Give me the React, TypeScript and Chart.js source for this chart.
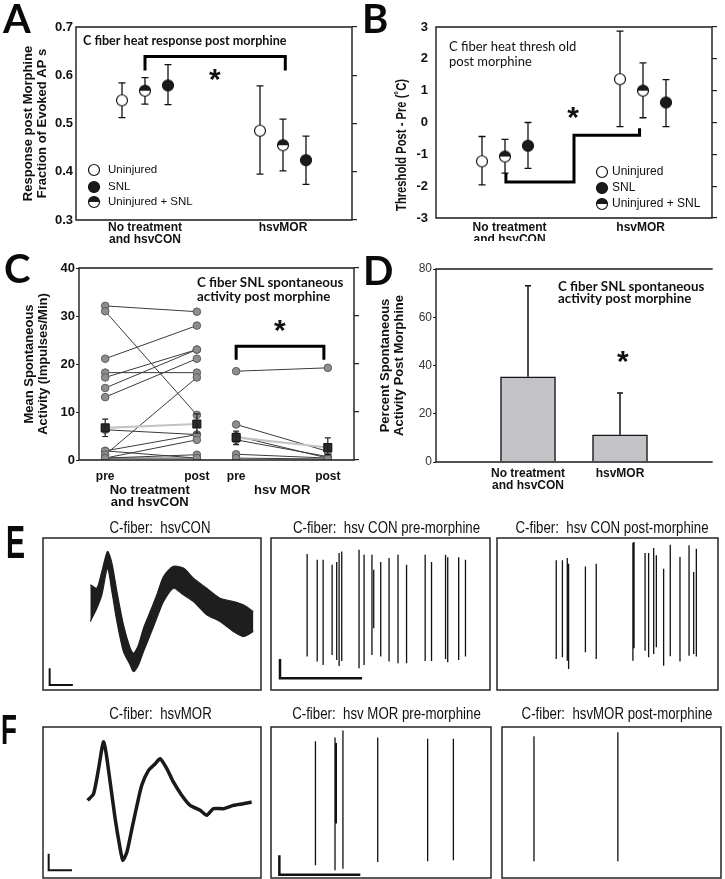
import React, { useEffect, useRef } from 'react';
import { Chart, registerables } from 'chart.js';
Chart.register(...registerables);

// ================= DATA =================
// Panel A – C fiber heat response post morphine
const A_groupTickValues = [3, 9];
const A_groupLabels: (string | string[])[] = [['No treatment', 'and hsvCON'], 'hsvMOR'];
const A_xUninjured = [2, 8];
const A_uninjured = [0.548, 0.485];
const A_uninjuredLow = [0.512, 0.395];
const A_uninjuredHigh = [0.584, 0.578];
const A_xCombined = [3, 9];
const A_combined = [0.568, 0.455];
const A_combinedLow = [0.54, 0.402];
const A_combinedHigh = [0.595, 0.509];
const A_xSNL = [4, 10];
const A_snl = [0.579, 0.424];
const A_snlLow = [0.539, 0.374];
const A_snlHigh = [0.622, 0.474];
const A_bracketX = [3, 3, 9.1, 9.1];
const A_bracketY = [0.61, 0.639, 0.639, 0.61];
const A_star = [6.04, 0.6];

// Panel B – C fiber heat threshold post morphine
const B_groupTickValues = [3.2, 8.9];
const B_groupLabels: (string | string[])[] = [['No treatment', 'and hsvCON'], 'hsvMOR'];
const B_xUninjured = [2, 8];
const B_uninjured = [-1.22, 1.36];
const B_uninjuredLow = [-1.96, -0.13];
const B_uninjuredHigh = [-0.44, 2.87];
const B_xCombined = [3, 9];
const B_combined = [-1.07, 1.0];
const B_combinedLow = [-1.59, 0.15];
const B_combinedHigh = [-0.53, 1.87];
const B_xSNL = [4, 10];
const B_snl = [-0.73, 0.63];
const B_snlLow = [-1.44, -0.13];
const B_snlHigh = [0.0, 1.35];
const B_stepX = [3.04, 3.04, 6, 6, 8.85, 8.85];
const B_stepY = [-1.59, -1.87, -1.87, -0.4, -0.4, -0.18];
const B_star = [5.96, 0.3];

const legendLabels = ['Uninjured', 'SNL', 'Uninjured + SNL'];

// Panel C – spontaneous activity pre / post
const C_phaseX = [1, 4.5, 6, 9.5];
const C_phaseLabels = ['pre', 'post', 'pre', 'post'];
const C_groupX = [2.7, 7.76];
const C_groupLabels: (string | string[])[] = [['No treatment', 'and hsvCON'], 'hsv MOR'];
const C_ctrlPre = [32.1, 31.0, 21.1, 18.2, 17.2, 15.0, 13.1, 6.3, 1.9, 1.9, 1.1, 0.4, 0.4, 0.4];
const C_ctrlPost = [30.9, 9.4, 28.0, 18.2, 23.0, 23.0, 21.1, 5.3, 5.3, 0.4, 17.2, 4.2, 1.1, 0.4];
const C_morPre = [18.5, 7.4, 5.0, 4.2, 1.2, 0.4];
const C_morPost = [19.2, 1.8, 0.4, 0.7, 0.4, 0.2];
const C_ctrlMean = [6.7, 7.5];
const C_ctrlMeanLow = [4.9, 5.6];
const C_ctrlMeanHigh = [8.5, 9.6];
const C_morMean = [4.7, 2.6];
const C_morMeanLow = [3.2, 1.1];
const C_morMeanHigh = [6.0, 4.6];
const C_bracketX = [6, 6, 9.35, 9.35];
const C_bracketY = [20.9, 23.7, 23.7, 20.9];
const C_star = [7.67, 27.9];

// Panel D – percent spontaneous activity post morphine
const D_categories: (string | string[])[] = ['', ['No treatment', 'and hsvCON'], 'hsvMOR', ''];
const D_percent = [null, 35.3, 11.3, null];
const D_errorTop = [null, 73.1, 28.6, null];
const D_star = [2.03, 43.5];

// Panel E/F – recordings (normalised 0-100 frame units)
const E1_time = [21.7, 24.7, 27.0, 29.6, 31.6, 33.9, 36.9, 40.0, 41.5, 43.8, 46.1, 49.2, 52.2, 55.3, 59.8, 64.4, 69.0, 75.1, 81.2, 87.3, 91.9, 96.5];
const E1_upper = [69.2, 67.0, 78.0, 91.2, 83.5, 64.8, 42.9, 27.5, 24.2, 29.7, 40.7, 51.6, 62.6, 74.7, 81.3, 80.2, 73.6, 67.0, 60.4, 58.2, 56.0, 51.6];
const E1_lower = [45.1, 53.8, 62.6, 80.2, 64.8, 45.1, 25.3, 16.5, 12.1, 16.5, 25.3, 36.3, 47.3, 58.2, 67.0, 62.6, 58.2, 49.5, 45.1, 38.5, 35.2, 38.5];
const E1_barX = [3.05, 3.05, 13.7];
const E1_barY = [14.3, 3.3, 3.3];

const E2_spikeX = [16.5, 21.1, 23.8, 27.9, 30.0, 31.1, 32.3, 40.2, 42.5, 46.1, 46.9, 50.1, 53.9, 58.0, 61.9, 70.4, 73.3, 79.7, 80.7, 85.7, 88.8];
const E2_spikeTop = [89.5, 85.7, 85.7, 82.4, 84.2, 90.1, 91.2, 92.3, 89.0, 89.0, 79.1, 84.2, 86.8, 89.0, 82.4, 89.0, 84.2, 89.0, 87.3, 87.3, 85.7];
const E2_spikeBottom = [22.0, 18.7, 16.5, 23.1, 19.8, 15.8, 19.1, 14.3, 16.5, 23.1, 40.7, 22.0, 18.7, 17.6, 17.6, 19.1, 19.1, 20.4, 18.2, 19.8, 22.0];
const E2_barX = [4.1, 4.1, 41.6];
const E2_barY = [20.4, 7.7, 7.7];

const E3_spikeX = [26.8, 29.6, 31.8, 32.4, 40.0, 44.9, 61.5, 62.0, 67.0, 68.6, 70.9, 72.1, 75.4, 78.4, 82.8, 86.9, 89.0, 90.2];
const E3_spikeTop = [85.3, 85.3, 86.8, 83.1, 81.3, 83.1, 96.9, 97.4, 90.1, 90.1, 93.4, 88.6, 79.8, 95.6, 87.5, 95.2, 77.6, 93.0];
const E3_spikeBottom = [20.4, 21.5, 19.3, 13.8, 24.8, 20.4, 19.3, 27.5, 25.9, 21.5, 23.7, 28.1, 16.0, 22.2, 18.7, 22.6, 23.7, 22.0];

const F1_time = [20.5, 23.2, 25.5, 27.0, 27.8, 29.0, 30.8, 33.1, 35.4, 36.6, 38.5, 40.8, 43.1, 45.3, 48.4, 51.5, 53.7, 56.8, 59.8, 63.7, 67.5, 72.1, 75.1, 78.2, 82.7, 87.3, 91.9, 95.7];
const F1_trace = [51.4, 55.8, 72.4, 85.7, 90.1, 82.3, 63.6, 39.3, 19.4, 11.7, 17.2, 32.7, 48.1, 61.4, 71.3, 75.7, 79.0, 72.4, 63.6, 54.7, 48.1, 44.8, 41.5, 45.9, 45.9, 48.1, 49.2, 50.3];
const F1_barX = [2.6, 2.6, 13.3];
const F1_barY = [16.1, 5.1, 5.1];

const F2_spikeX = [20.2, 29.1, 29.7, 32.7, 48.5, 71.2, 82.9];
const F2_spikeTop = [90.5, 93.1, 89.4, 97.6, 93.1, 92.2, 92.2];
const F2_spikeBottom = [8.4, 5.1, 36.1, 6.2, 10.6, 11.1, 11.8];
const F2_barX = [3.8, 3.8, 40.6];
const F2_barY = [15.1, 2.2, 2.2];

const F3_spikeX = [14.6, 52.9];
const F3_spikeTop = [93.8, 96.5];
const F3_spikeBottom = [11.1, 11.1];

// ================= STYLE =================
const FONT_AX = "'Liberation Sans', Arial, Helvetica, sans-serif";
const FONT_CAL = "Lato, 'Open Sans', sans-serif";
const INK = '#111111';

type Rect = { x: number; y: number; w: number; h: number };
type Area = { l: number; t: number; r: number; b: number };

function layoutPadding(c: Rect, a: Area, left = 0, right = 0, bottom = 0) {
  return { left: a.l - c.x - left, top: a.t - c.y, right: c.x + c.w - a.r - right, bottom: c.y + c.h - a.b - bottom };
}

function makeMarker(kind: 'open' | 'filled' | 'half', r = 5.5) {
  const s = Math.ceil(r * 2 + 3);
  const c = document.createElement('canvas');
  c.width = s;
  c.height = s;
  const ctx = c.getContext('2d')!;
  const m = s / 2;
  ctx.beginPath();
  ctx.arc(m, m, r, 0, Math.PI * 2);
  ctx.fillStyle = kind === 'filled' ? '#1a1a1a' : '#ffffff';
  ctx.fill();
  if (kind === 'half') {
    ctx.beginPath();
    ctx.arc(m, m, r, Math.PI, Math.PI * 2);
    ctx.closePath();
    ctx.fillStyle = '#1a1a1a';
    ctx.fill();
  }
  ctx.beginPath();
  ctx.arc(m, m, r, 0, Math.PI * 2);
  ctx.lineWidth = 1.2;
  ctx.strokeStyle = '#111';
  ctx.stroke();
  return c;
}

type TextSpec = { text: string; x: number; y: number; mode?: 'data' | 'area'; font: string; color?: string; align?: CanvasTextAlign; baseline?: CanvasTextBaseline; dy?: number; rotate?: number; sx?: number };
type ErrSpec = { x: number[]; lo: number[]; hi: number[]; cap: number; width: number; color: string; layer?: 'under' | 'over'; capLow?: boolean };
type LegendSpec = { img: HTMLCanvasElement; x: number; y: number; text: string; tx: number; font: string };
type Deco = { frame?: string; frameWidth?: number; frameColor?: string; texts?: TextSpec[]; errs?: ErrSpec[]; legend?: LegendSpec[] };

function makeDeco(d: Deco) {
  const drawErr = (chart: any, layer: string) => {
    const xs = chart.scales.x;
    const ys = chart.scales.y;
    const ctx = chart.ctx;
    for (const e of d.errs || []) {
      if ((e.layer || 'under') !== layer) continue;
      ctx.save();
      ctx.strokeStyle = e.color;
      ctx.lineWidth = e.width;
      e.x.forEach((xv, i) => {
        const px = xs.getPixelForValue(xv);
        const p1 = ys.getPixelForValue(e.lo[i]);
        const p2 = ys.getPixelForValue(e.hi[i]);
        ctx.beginPath();
        ctx.moveTo(px, p1);
        ctx.lineTo(px, p2);
        if (e.capLow !== false) {
          ctx.moveTo(px - e.cap, p1);
          ctx.lineTo(px + e.cap, p1);
        }
        ctx.moveTo(px - e.cap, p2);
        ctx.lineTo(px + e.cap, p2);
        ctx.stroke();
      });
      ctx.restore();
    }
  };
  return {
    id: 'deco',
    beforeDatasetsDraw(chart: any) {
      drawErr(chart, 'under');
    },
    afterDatasetsDraw(chart: any) {
      drawErr(chart, 'over');
    },
    afterDraw(chart: any) {
      const ctx = chart.ctx;
      const { left, top, right, bottom } = chart.chartArea;
      if (d.frame) {
        ctx.save();
        ctx.strokeStyle = d.frameColor || '#1a1a1a';
        ctx.lineWidth = d.frameWidth || 1.4;
        ctx.lineCap = 'square';
        ctx.beginPath();
        if (d.frame.includes('t')) { ctx.moveTo(left, top); ctx.lineTo(right, top); }
        if (d.frame.includes('b')) { ctx.moveTo(left, bottom); ctx.lineTo(right, bottom); }
        if (d.frame.includes('l')) { ctx.moveTo(left, top); ctx.lineTo(left, bottom); }
        if (d.frame.includes('r')) { ctx.moveTo(right, top); ctx.lineTo(right, bottom); }
        ctx.stroke();
        ctx.restore();
      }
      for (const t of d.texts || []) {
        let px: number, py: number;
        if (t.mode === 'area') {
          px = left + t.x;
          py = top + t.y;
        } else {
          px = chart.scales.x.getPixelForValue(t.x);
          py = chart.scales.y.getPixelForValue(t.y);
        }
        ctx.save();
        ctx.translate(px, py);
        if (t.rotate) ctx.rotate(t.rotate);
        if (t.sx) ctx.scale(t.sx, 1);
        ctx.font = t.font;
        ctx.fillStyle = t.color || INK;
        ctx.textAlign = t.align || 'left';
        ctx.textBaseline = t.baseline || 'middle';
        ctx.fillText(t.text, 0, t.dy || 0);
        ctx.restore();
      }
      for (const l of d.legend || []) {
        ctx.save();
        ctx.drawImage(l.img, left + l.x - l.img.width / 2, top + l.y - l.img.height / 2);
        ctx.font = l.font;
        ctx.fillStyle = INK;
        ctx.textAlign = 'left';
        ctx.textBaseline = 'middle';
        ctx.fillText(l.text, left + l.tx, top + l.y);
        ctx.restore();
      }
    },
  };
}

function baseOptions(padding: any) {
  return {
    responsive: false,
    maintainAspectRatio: false,
    animation: false,
    events: [],
    layout: { padding, autoPadding: false },
    plugins: { legend: { display: false }, tooltip: { enabled: false }, title: { display: false } },
  };
}

const pts = (xs: number[], ys: number[]) => xs.map((x, i) => ({ x, y: ys[i] }));
const NO_GRID = { display: false, drawTicks: false };
const STAR_FONT = `bold 30px ${FONT_AX}`;
const STAR_DY = 14;

function markerSet(xs: number[], ys: number[], img: HTMLCanvasElement) {
  return { type: 'line', data: pts(xs, ys), showLine: false, pointStyle: img, pointRadius: 6, xAxisID: 'x', yAxisID: 'y', order: 0 };
}

function lineSet(xs: number[], ys: number[], width: number, color = '#000') {
  return { type: 'line', data: pts(xs, ys), borderColor: color, borderWidth: width, pointRadius: 0, fill: false, tension: 0, borderJoinStyle: 'miter', xAxisID: 'x', yAxisID: 'y', order: 1 };
}

function spikeSet(xs: number[], tops: number[], bottoms: number[], width = 1.3) {
  const data: any[] = [];
  xs.forEach((x, i) => {
    data.push({ x, y: tops[i] }, { x, y: bottoms[i] }, { x, y: null });
  });
  return { type: 'line', data, borderColor: '#111', borderWidth: width, pointRadius: 0, spanGaps: false, fill: false, xAxisID: 'x', yAxisID: 'y' };
}

function rightTicks(min: number, max: number, step: number) {
  return {
    type: 'linear', position: 'right', min, max,
    ticks: { display: false, stepSize: step },
    grid: { display: true, drawOnChartArea: false, drawTicks: true, tickLength: 5, color: '#222', lineWidth: 1.2 },
    border: { display: false },
    afterFit: (s: any) => { s.width = 6; },
  };
}

// ---------- Panel A / B builders ----------
function buildScatterPanel(p: {
  canvas: Rect; area: Area; yMin: number; yMax: number; step: number; yDecimals: number;
  yTitle: string | string[] | null; yTitlePad: number; tickPad: number;
  groupValues: number[]; groupLabels: (string | string[])[]; xLabelPad: number;
  xs: number[][]; ys: number[][]; lows: number[][]; highs: number[][];
  pathX: number[]; pathY: number[]; star: number[]; texts: TextSpec[]; legendPos: { x: number; y: number[]; tx: number }; legendFont: string;
}) {
  const imgs = [makeMarker('open'), makeMarker('filled'), makeMarker('half')];
  const leftW = p.area.l - p.canvas.x;
  const bottomH = p.canvas.y + p.canvas.h - p.area.b;
  const datasets: any[] = [
    markerSet(p.xs[0], p.ys[0], imgs[0]),
    markerSet(p.xs[1], p.ys[1], imgs[2]),
    markerSet(p.xs[2], p.ys[2], imgs[1]),
    lineSet(p.pathX, p.pathY, 3),
  ];
  return {
    type: 'line',
    data: { datasets },
    options: {
      ...baseOptions(layoutPadding(p.canvas, p.area, leftW, 6, bottomH)),
      scales: {
        x: {
          type: 'linear', min: 0, max: 12,
          afterBuildTicks: (s: any) => { s.ticks = p.groupValues.map((v) => ({ value: v })); },
          ticks: { callback: (_v: any, i: number) => p.groupLabels[i], autoSkip: false, maxRotation: 0, padding: p.xLabelPad, color: INK, font: { family: FONT_AX, size: 12, weight: 'bold', lineHeight: 1 } },
          grid: NO_GRID, border: { display: false },
          afterFit: (s: any) => { s.height = bottomH; },
        },
        y: {
          type: 'linear', min: p.yMin, max: p.yMax,
          ticks: { stepSize: p.step, padding: p.tickPad, color: INK, callback: (v: number) => v.toFixed(p.yDecimals), font: { family: FONT_AX, size: 13, weight: 'bold' } },
          grid: NO_GRID, border: { display: false },
          title: { display: !!p.yTitle, text: p.yTitle || '', color: INK, padding: { top: p.yTitlePad, bottom: 0 }, font: { family: FONT_AX, size: 13, weight: 'bold', lineHeight: 1.08 } },
          afterFit: (s: any) => { s.width = leftW; },
        },
        y2: rightTicks(p.yMin, p.yMax, p.step),
      },
    },
    plugins: [makeDeco({
      frame: 'tlbr', frameWidth: 1.4,
      errs: [0, 1, 2].map((k) => ({ x: p.xs[k], lo: p.lows[k], hi: p.highs[k], cap: 3.5, width: 1.3, color: '#111', layer: 'under' as const })),
      texts: [
        ...p.texts,
        { text: '*', x: p.star[0], y: p.star[1], font: STAR_FONT, align: 'center', baseline: 'alphabetic', dy: STAR_DY },
      ],
      legend: [0, 1, 2].map((k) => ({ img: imgs[k], x: p.legendPos.x, y: p.legendPos.y[k], text: legendLabels[k], tx: p.legendPos.tx, font: p.legendFont })),
    })],
  };
}

function buildA() {
  return buildScatterPanel({
    canvas: { x: 0, y: 0, w: 362, h: 248 }, area: { l: 76, t: 27, r: 352, b: 220 },
    yMin: 0.3, yMax: 0.7, step: 0.1, yDecimals: 1,
    yTitle: ['Response post Morphine', 'Fraction of Evoked AP s'], yTitlePad: 21, tickPad: 3,
    groupValues: A_groupTickValues, groupLabels: A_groupLabels, xLabelPad: 2,
    xs: [A_xUninjured, A_xCombined, A_xSNL], ys: [A_uninjured, A_combined, A_snl],
    lows: [A_uninjuredLow, A_combinedLow, A_snlLow], highs: [A_uninjuredHigh, A_combinedHigh, A_snlHigh],
    pathX: A_bracketX, pathY: A_bracketY, star: A_star,
    texts: [{ text: 'C fiber heat response post morphine', x: 7, y: 13.5, mode: 'area', font: `bold 12.6px ${FONT_CAL}` }],
    legendPos: { x: 18, y: [143, 160, 175], tx: 32 }, legendFont: `11.5px ${FONT_AX}`,
  });
}

function buildB() {
  return buildScatterPanel({
    canvas: { x: 362, y: 0, w: 363, h: 241 }, area: { l: 436, t: 27, r: 712, b: 218 },
    yMin: -3, yMax: 3, step: 1, yDecimals: 0,
    yTitle: null, yTitlePad: 0, tickPad: 8,
    groupValues: B_groupTickValues, groupLabels: B_groupLabels, xLabelPad: 4,
    xs: [B_xUninjured, B_xCombined, B_xSNL], ys: [B_uninjured, B_combined, B_snl],
    lows: [B_uninjuredLow, B_combinedLow, B_snlLow], highs: [B_uninjuredHigh, B_combinedHigh, B_snlHigh],
    pathX: B_stepX, pathY: B_stepY, star: B_star,
    texts: [
      { text: 'C fiber heat thresh old', x: 13, y: 20, mode: 'area', font: `13px ${FONT_CAL}` },
      { text: 'post morphine', x: 13, y: 35, mode: 'area', font: `13px ${FONT_CAL}` },
      { text: 'Threshold Post - Pre (˚C)', x: -34, y: 118, mode: 'area', font: `bold 14px ${FONT_AX}`, align: 'center', rotate: -Math.PI / 2, sx: 0.8 },
    ],
    legendPos: { x: 166, y: [145, 161, 177], tx: 176 }, legendFont: `12px ${FONT_AX}`,
  });
}

function buildC() {
  const canvas = { x: 0, y: 248, w: 362, h: 260 };
  const area = { l: 79, t: 268, r: 354, b: 460 };
  const leftW = area.l - canvas.x;
  const xH = 22;
  const x2H = canvas.y + canvas.h - area.b - xH;
  const pairData = (pre: number[], post: number[], x0: number, x1: number) => {
    const out: any[] = [];
    pre.forEach((v, i) => { out.push({ x: x0, y: v }, { x: x1, y: post[i] }, { x: x1, y: null }); });
    return out;
  };
  const indiv = (data: any[]) => ({
    type: 'line', data, borderColor: '#3a3a3a', borderWidth: 1, spanGaps: false, tension: 0,
    pointRadius: 3.8, pointBackgroundColor: '#8e8e8e', pointBorderColor: '#5c5c5c', pointBorderWidth: 1,
    xAxisID: 'x', yAxisID: 'y', order: 3,
  });
  const mean = (xs: number[], ys: number[]) => ({
    type: 'line', data: pts(xs, ys), borderColor: '#c4c4c4', borderWidth: 2.2, tension: 0,
    pointStyle: 'rect', pointRadius: 5.7, pointBackgroundColor: '#2b2b2b', pointBorderColor: '#111', pointBorderWidth: 1,
    xAxisID: 'x', yAxisID: 'y', order: 0,
  });
  return {
    type: 'line',
    data: {
      datasets: [
        indiv(pairData(C_ctrlPre, C_ctrlPost, C_phaseX[0], C_phaseX[1])),
        indiv(pairData(C_morPre, C_morPost, C_phaseX[2], C_phaseX[3])),
        mean([C_phaseX[0], C_phaseX[1]], C_ctrlMean),
        mean([C_phaseX[2], C_phaseX[3]], C_morMean),
        lineSet(C_bracketX, C_bracketY, 3),
      ],
    },
    options: {
      ...baseOptions(layoutPadding(canvas, area, leftW, 6, xH + x2H)),
      scales: {
        x: {
          type: 'linear', min: 0, max: 10.5,
          afterBuildTicks: (s: any) => { s.ticks = C_phaseX.map((v) => ({ value: v })); },
          ticks: { callback: (_v: any, i: number) => C_phaseLabels[i], autoSkip: false, maxRotation: 0, padding: 11, color: INK, font: { family: FONT_AX, size: 12, weight: 'bold', lineHeight: 1 } },
          grid: NO_GRID, border: { display: false },
          afterFit: (s: any) => { s.height = xH; },
        },
        x2: {
          type: 'linear', position: 'bottom', min: 0, max: 10.5,
          afterBuildTicks: (s: any) => { s.ticks = C_groupX.map((v) => ({ value: v })); },
          ticks: { callback: (_v: any, i: number) => C_groupLabels[i], autoSkip: false, maxRotation: 0, padding: 2, color: INK, font: { family: FONT_AX, size: 13, weight: 'bold', lineHeight: 0.93 } },
          grid: NO_GRID, border: { display: false },
          afterFit: (s: any) => { s.height = x2H; },
        },
        y: {
          type: 'linear', min: 0, max: 40,
          ticks: { stepSize: 10, padding: 1, color: INK, font: { family: FONT_AX, size: 13, weight: 'bold' } },
          grid: { display: true, drawOnChartArea: false, drawTicks: true, tickLength: 3, color: '#222' }, border: { display: false },
          title: { display: true, text: ['Mean Spontaneous', 'Activity (Impulses/Min)'], color: INK, padding: { top: 22, bottom: 0 }, font: { family: FONT_AX, size: 13, weight: 'bold', lineHeight: 1.08 } },
          afterFit: (s: any) => { s.width = leftW; },
        },
        y2: rightTicks(0, 40, 10),
      },
    },
    plugins: [makeDeco({
      frame: 'tlbr', frameWidth: 1.4,
      errs: [
        { x: [C_phaseX[0], C_phaseX[1]], lo: C_ctrlMeanLow, hi: C_ctrlMeanHigh, cap: 3, width: 1.2, color: '#222', layer: 'over' },
        { x: [C_phaseX[2], C_phaseX[3]], lo: C_morMeanLow, hi: C_morMeanHigh, cap: 3, width: 1.2, color: '#222', layer: 'over' },
      ],
      texts: [
        { text: 'C fiber SNL spontaneous', x: 118, y: 15, mode: 'area', font: `bold 13.3px ${FONT_CAL}` },
        { text: 'activity post morphine', x: 118, y: 29, mode: 'area', font: `bold 13.3px ${FONT_CAL}` },
        { text: '*', x: C_star[0], y: C_star[1], font: STAR_FONT, align: 'center', baseline: 'alphabetic', dy: STAR_DY },
      ],
    })],
  };
}

function buildD() {
  const canvas = { x: 362, y: 248, w: 363, h: 260 };
  const area = { l: 436, t: 269, r: 712, b: 462 };
  const leftW = area.l - canvas.x;
  const bottomH = canvas.y + canvas.h - area.b;
  const errX: number[] = [];
  const errLo: number[] = [];
  const errHi: number[] = [];
  D_percent.forEach((v, i) => {
    if (v !== null && D_errorTop[i] !== null) { errX.push(i); errLo.push(v); errHi.push(D_errorTop[i] as number); }
  });
  return {
    type: 'bar',
    data: {
      labels: D_categories,
      datasets: [{ data: D_percent, backgroundColor: '#c4c4c8', borderColor: '#151515', borderWidth: 1.5, barThickness: 55, xAxisID: 'x', yAxisID: 'y' }],
    },
    options: {
      ...baseOptions(layoutPadding(canvas, area, leftW, 0, bottomH)),
      scales: {
        x: {
          type: 'category', offset: false,
          ticks: { autoSkip: false, maxRotation: 0, padding: 6, color: INK, font: { family: FONT_AX, size: 12, weight: 'bold', lineHeight: 0.96 } },
          grid: NO_GRID, border: { display: false },
          afterFit: (s: any) => { s.height = bottomH; },
        },
        y: {
          type: 'linear', min: 0, max: 80,
          ticks: { stepSize: 20, padding: 1, color: '#333', font: { family: FONT_AX, size: 12 } },
          grid: { display: true, drawOnChartArea: false, drawTicks: true, tickLength: 3, color: '#222' }, border: { display: false },
          title: { display: true, text: ['Percent Spontaneous', 'Activity Post Morphine'], color: INK, padding: { top: 16, bottom: 0 }, font: { family: FONT_AX, size: 13, weight: 'bold', lineHeight: 1.08 } },
          afterFit: (s: any) => { s.width = leftW; },
        },
      },
    },
    plugins: [makeDeco({
      frame: 'tlb', frameWidth: 1.4,
      errs: [{ x: errX, lo: errLo, hi: errHi, cap: 3, width: 1.5, color: '#111', layer: 'over', capLow: false }],
      texts: [
        { text: 'C fiber SNL spontaneous', x: 122, y: 17.5, mode: 'area', font: `bold 13.3px ${FONT_CAL}` },
        { text: 'activity post morphine', x: 122, y: 30, mode: 'area', font: `bold 13.3px ${FONT_CAL}` },
        { text: '*', x: D_star[0], y: D_star[1], font: STAR_FONT, align: 'center', baseline: 'alphabetic', dy: STAR_DY },
      ],
    })],
  };
}

function buildTrace(canvas: Rect, area: Area, datasets: any[], title: string, tx: number, ty: number) {
  return {
    type: 'line',
    data: { datasets },
    options: {
      ...baseOptions(layoutPadding(canvas, area)),
      scales: {
        x: { type: 'linear', display: false, min: 0, max: 100 },
        y: { type: 'linear', display: false, min: 0, max: 100 },
      },
    },
    plugins: [makeDeco({
      frame: 'tlbr', frameWidth: 1.5, frameColor: '#262626',
      texts: [{ text: title, x: tx, y: ty, mode: 'area', font: `17px ${FONT_AX}`, align: 'center', sx: 0.78 }],
    })],
  };
}

const scaleBar = (xs: number[], ys: number[], w: number) => ({ ...lineSet(xs, ys, w, '#111'), borderJoinStyle: 'miter' });

function buildE1() {
  return buildTrace({ x: 38, y: 512, w: 228, h: 182 }, { l: 43, t: 538, r: 261, b: 690 }, [
    { type: 'line', data: pts(E1_time, E1_upper), borderColor: '#1e1e1e', borderWidth: 1.2, pointRadius: 0, fill: false, tension: 0.25 },
    { type: 'line', data: pts(E1_time, E1_lower), borderColor: '#1e1e1e', borderWidth: 1.2, pointRadius: 0, fill: '-1', backgroundColor: '#1e1e1e', tension: 0.25 },
    scaleBar(E1_barX, E1_barY, 2),
  ], 'C-fiber:  hsvCON', 117, -10);
}
function buildE2() {
  return buildTrace({ x: 266, y: 512, w: 228, h: 182 }, { l: 271, t: 538, r: 490, b: 690 }, [
    spikeSet(E2_spikeX, E2_spikeTop, E2_spikeBottom),
    scaleBar(E2_barX, E2_barY, 2.5),
  ], 'C-fiber:  hsv CON pre-morphine', 115.5, -10);
}
function buildE3() {
  return buildTrace({ x: 494, y: 512, w: 230, h: 182 }, { l: 497, t: 538, r: 718, b: 690 }, [
    spikeSet(E3_spikeX, E3_spikeTop, E3_spikeBottom),
  ], 'C-fiber:  hsv CON post-morphine', 115, -10);
}
function buildF1() {
  return buildTrace({ x: 38, y: 700, w: 228, h: 179 }, { l: 43, t: 727, r: 261, b: 878 }, [
    { type: 'line', data: pts(F1_time, F1_trace), borderColor: '#1a1a1a', borderWidth: 3.5, pointRadius: 0, fill: false, tension: 0.2 },
    scaleBar(F1_barX, F1_barY, 2),
  ], 'C-fiber:  hsvMOR', 117.5, -13);
}
function buildF2() {
  return buildTrace({ x: 266, y: 700, w: 230, h: 179 }, { l: 271, t: 727, r: 491, b: 878 }, [
    spikeSet(F2_spikeX, F2_spikeTop, F2_spikeBottom),
    scaleBar(F2_barX, F2_barY, 2.5),
  ], 'C-fiber:  hsv MOR pre-morphine', 115.5, -13);
}
function buildF3() {
  return buildTrace({ x: 497, y: 700, w: 228, h: 179 }, { l: 502, t: 727, r: 721, b: 878 }, [
    spikeSet(F3_spikeX, F3_spikeTop, F3_spikeBottom),
  ], 'C-fiber:  hsvMOR post-morphine', 115, -13);
}

function ChartCanvas({ x, y, w, h, build }: { x: number; y: number; w: number; h: number; build: () => any }) {
  const ref = useRef<HTMLCanvasElement>(null);
  useEffect(() => {
    const chart = new Chart(ref.current as HTMLCanvasElement, build());
    return () => chart.destroy();
  }, []);
  return <canvas ref={ref} width={w} height={h} style={{ position: 'absolute', left: x, top: y, width: w, height: h }} />;
}

function Letter({ ch, x, y, size, family, scaleX = 1 }: { ch: string; x: number; y: number; size: number; family: string; scaleX?: number }) {
  return (
    <div style={{ position: 'absolute', left: x, top: y, fontFamily: family, fontWeight: 'bold', fontSize: size, lineHeight: `${size}px`, color: '#0a0a0a', transform: `scaleX(${scaleX})`, transformOrigin: 'left top' }}>{ch}</div>
  );
}

export default function App() {
  return (
    <div style={{ position: 'absolute', left: 0, top: 0, width: 725, height: 879, background: '#fff', overflow: 'hidden' }}>
      <ChartCanvas x={0} y={0} w={362} h={248} build={buildA} />
      <ChartCanvas x={362} y={0} w={363} h={241} build={buildB} />
      <ChartCanvas x={0} y={248} w={362} h={260} build={buildC} />
      <ChartCanvas x={362} y={248} w={363} h={260} build={buildD} />
      <ChartCanvas x={38} y={512} w={228} h={182} build={buildE1} />
      <ChartCanvas x={266} y={512} w={228} h={182} build={buildE2} />
      <ChartCanvas x={494} y={512} w={230} h={182} build={buildE3} />
      <ChartCanvas x={38} y={700} w={228} h={179} build={buildF1} />
      <ChartCanvas x={266} y={700} w={230} h={179} build={buildF2} />
      <ChartCanvas x={497} y={700} w={228} h={179} build={buildF3} />
      <Letter ch="A" x={3} y={-2} size={40} family={FONT_CAL} />
      <Letter ch="B" x={362} y={-2} size={40} family={FONT_CAL} />
      <Letter ch="C" x={4} y={248} size={40} family={FONT_CAL} />
      <Letter ch="D" x={363} y={250} size={40} family={FONT_CAL} />
      <Letter ch="E" x={6} y={519} size={46} family={FONT_AX} scaleX={0.62} />
      <Letter ch="F" x={1} y={709} size={42} family={FONT_AX} scaleX={0.62} />
    </div>
  );
}
